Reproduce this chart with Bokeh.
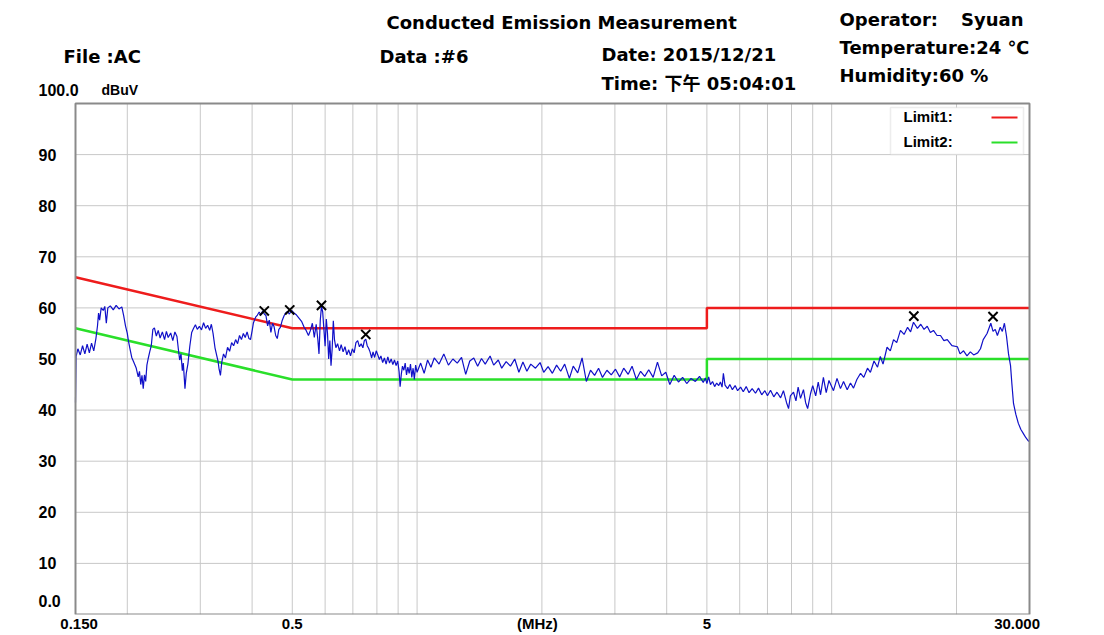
import math
from bokeh.plotting import figure
from bokeh.models import FixedTicker, Label, BoxAnnotation, Range1d
from bokeh.embed import file_html
from bokeh.resources import INLINE

# ---------------- data ----------------
freq_mhz = [
    0.150, 0.1505, 0.152, 0.154, 0.156, 0.158, 0.160, 0.162, 0.164, 0.166,
    0.168, 0.1695, 0.1705, 0.1715, 0.173, 0.175, 0.1765, 0.178, 0.1795, 0.182,
    0.185, 0.188, 0.191, 0.194, 0.196, 0.198, 0.200, 0.2013, 0.203, 0.205,
    0.207, 0.210, 0.2125, 0.214, 0.2155, 0.217, 0.2185, 0.220, 0.2215, 0.223,
    0.2245, 0.2265, 0.2285, 0.2305, 0.2325, 0.235, 0.2375, 0.240, 0.243, 0.246,
    0.2485, 0.251, 0.2545, 0.2575, 0.2605, 0.2635, 0.2655, 0.2675, 0.2695, 0.2715,
    0.273, 0.2755, 0.2775, 0.280, 0.283, 0.286, 0.289, 0.292, 0.295, 0.2985,
    0.302, 0.3055, 0.309, 0.3125, 0.316, 0.319, 0.322, 0.3255, 0.329, 0.331,
    0.333, 0.3355, 0.338, 0.3413, 0.345, 0.349, 0.353, 0.357, 0.361, 0.365,
    0.369, 0.373, 0.377, 0.381, 0.385, 0.389, 0.393, 0.3965, 0.400, 0.403,
    0.408, 0.412, 0.416, 0.420, 0.424, 0.428, 0.432, 0.436, 0.440, 0.444,
    0.448, 0.452, 0.456, 0.460, 0.464, 0.468, 0.473, 0.478, 0.482, 0.487,
    0.492, 0.498, 0.505, 0.512, 0.520, 0.527, 0.534, 0.540, 0.547, 0.553,
    0.559, 0.565, 0.571, 0.576, 0.580, 0.584, 0.588, 0.592, 0.596, 0.600,
    0.604, 0.608, 0.612, 0.616, 0.620, 0.624, 0.628, 0.632, 0.637, 0.643,
    0.650, 0.656, 0.663, 0.670, 0.677, 0.684, 0.691, 0.698, 0.705, 0.712,
    0.719, 0.726, 0.733, 0.740, 0.746, 0.752, 0.758, 0.764, 0.770, 0.777,
    0.783, 0.790, 0.797, 0.804, 0.811, 0.818, 0.826, 0.834, 0.842, 0.850,
    0.858, 0.866, 0.874, 0.882, 0.890, 0.898, 0.905, 0.910, 0.916, 0.922,
    0.929, 0.936, 0.943, 0.950, 0.957, 0.964, 0.971, 0.978, 0.985, 0.992,
    1.000, 1.02, 1.04, 1.06, 1.08, 1.10, 1.13, 1.16, 1.19, 1.22,
    1.25, 1.28, 1.31, 1.34, 1.37, 1.40, 1.43, 1.46, 1.50, 1.53,
    1.57, 1.60, 1.64, 1.68, 1.72, 1.76, 1.80, 1.84, 1.88, 1.93,
    1.98, 2.02, 2.07, 2.12, 2.17, 2.22, 2.27, 2.33, 2.38, 2.44,
    2.50, 2.56, 2.62, 2.68, 2.74, 2.80, 2.87, 2.94, 3.01, 3.08,
    3.15, 3.23, 3.30, 3.38, 3.46, 3.54, 3.62, 3.71, 3.80, 3.89,
    3.98, 4.07, 4.17, 4.27, 4.37, 4.47, 4.58, 4.69, 4.80, 4.90,
    4.96, 5.00, 5.05, 5.10, 5.16, 5.22, 5.28, 5.34, 5.39, 5.44,
    5.48, 5.53, 5.61, 5.68, 5.76, 5.85, 5.93, 6.03, 6.12, 6.22,
    6.32, 6.43, 6.55, 6.66, 6.78, 6.90, 7.00, 7.12, 7.25, 7.38,
    7.53, 7.65, 7.78, 7.87, 7.95, 8.09, 8.20, 8.30, 8.41, 8.55,
    8.65, 8.75, 8.89, 9.00, 9.15, 9.28, 9.40, 9.55, 9.70, 9.85,
    10.1, 10.3, 10.5, 10.68, 10.9, 11.1, 11.29, 11.5, 11.74, 11.95,
    12.2, 12.4, 12.65, 12.9, 13.1, 13.3, 13.6, 13.85, 14.1, 14.35,
    14.65, 14.95, 15.24, 15.5, 15.75, 16.1, 16.4, 16.7, 17.0, 17.3,
    17.6, 17.95, 18.3, 18.65, 19.0, 19.5, 20.1, 20.4, 20.8, 21.2,
    21.6, 22.0, 22.5, 22.85, 23.2, 23.7, 24.2, 24.5, 24.8, 25.1,
    25.5, 25.8, 26.1, 26.4, 26.7, 27.0, 27.2, 27.45, 27.8, 28.2,
    28.6, 29.0, 29.4, 29.8, 30.0,
]
level_dbuv = [
    41.5, 50.5, 52.0, 50.8, 52.6, 51.0, 52.9, 51.2, 53.1, 51.6,
    54.0, 56.5, 59.0, 57.6, 60.0, 59.5, 60.3, 57.0, 60.0, 60.4,
    59.6, 60.5, 59.8, 60.2, 58.5, 56.5, 55.0, 53.5, 52.0, 50.3,
    49.5, 48.3, 46.5, 47.6, 45.0, 46.8, 44.2, 46.9, 45.6, 48.8,
    50.0, 51.4, 52.6, 55.8, 56.1, 54.5, 55.6, 54.1, 55.3, 53.8,
    55.4, 54.2, 55.1, 53.6, 55.3, 54.4, 52.0, 49.8, 51.0, 47.7,
    49.2, 44.2, 47.2, 49.0, 52.5, 55.2, 56.0, 56.7, 55.8, 56.4,
    55.7, 57.1, 56.0, 56.6, 55.6, 56.8, 55.0, 52.2, 50.5, 49.6,
    48.0, 46.8, 49.4, 51.0, 50.2, 52.3, 51.5, 53.2, 52.6, 53.8,
    53.0, 54.6, 53.8, 55.0, 54.2, 55.3, 54.0, 53.8, 55.5, 57.1,
    58.2, 58.6, 59.2, 58.6, 59.4, 58.8, 58.5, 56.5, 57.6, 55.2,
    57.0, 56.3, 54.6, 54.0, 55.8, 56.2, 57.6, 58.5, 59.0, 59.3,
    58.8, 59.5, 59.0, 58.6, 57.9, 57.3, 56.2, 55.6, 54.6, 55.6,
    57.0, 54.2, 56.8, 54.0, 51.0, 57.5, 60.3, 59.2, 55.8, 52.5,
    57.8, 55.0, 50.0, 53.6, 48.7, 52.0, 57.5, 53.8, 52.2, 53.0,
    51.6, 52.8, 51.4, 52.4, 50.8, 51.8, 50.6, 52.0, 51.2, 53.2,
    53.6, 52.4, 53.0, 52.2, 53.6, 53.9, 52.6, 52.1, 51.4, 50.2,
    51.4, 50.3, 51.6, 50.8, 49.9, 50.6, 49.3, 50.2, 49.0, 50.4,
    49.2, 50.0, 48.9, 49.8, 48.7, 49.6, 47.5, 44.6, 47.0, 48.6,
    47.8, 49.2, 46.9, 48.4, 47.2, 49.0, 46.4, 48.2, 46.0, 48.8,
    47.4, 49.2, 47.2, 49.8, 48.4, 50.2, 49.0, 51.0, 48.8, 50.0,
    49.2, 50.3, 47.0, 49.6, 50.2, 48.6, 50.1, 49.0, 50.6, 48.8,
    49.8, 48.2, 49.5, 48.6, 50.0, 47.4, 49.4, 47.6, 49.0, 48.2,
    49.3, 47.4, 48.5, 47.2, 48.8, 47.6, 49.0, 46.2, 48.6, 47.3,
    50.2, 45.6, 47.8, 46.8, 48.2, 46.4, 47.8, 46.9, 48.0, 46.5,
    48.2, 47.0, 48.6, 46.0, 47.6, 46.6, 47.9, 46.4, 49.4, 46.7,
    47.4, 45.0, 46.8, 45.5, 46.4, 45.2, 46.2, 45.6, 46.6, 45.4,
    46.3, 45.2, 46.5, 45.0, 45.6, 44.6, 45.3, 44.8, 45.5, 44.5,
    47.2, 44.9, 44.2, 45.0, 44.0, 44.8, 43.8, 44.5, 43.6, 44.6,
    43.4, 44.2, 43.3, 44.3, 43.0, 43.8, 42.8, 43.9, 42.6, 43.5,
    42.4, 43.8, 41.5, 40.3, 42.8, 43.5, 41.8, 44.5, 42.3, 44.0,
    41.5, 40.3, 43.2, 44.8, 42.8, 45.5, 43.0, 46.4, 43.4, 45.8,
    43.8, 46.2, 44.2, 45.6, 44.0, 45.3, 44.3, 46.0, 47.2, 46.4,
    48.2, 47.4, 49.6, 48.4, 50.5, 49.0, 52.3, 51.6, 53.8, 53.2,
    55.6, 54.8, 56.2, 55.3, 57.2, 56.0, 56.8, 55.8, 56.4, 55.2,
    55.6, 54.6, 54.6, 53.6, 53.8, 52.6, 52.4, 51.0, 51.6, 50.6,
    51.4, 50.8, 51.2, 52.0, 53.8, 55.0, 57.0, 55.4, 55.8, 54.6,
    56.2, 55.4, 57.0, 54.5, 51.0, 48.7, 45.2, 41.3, 39.2, 37.4,
    36.2, 35.4, 34.6, 34.0, 33.8,
]

limit_freq = [0.15, 0.5, 5.0, 5.0, 30.0]
limit1_dbuv = [66, 56, 56, 60, 60]
limit2_dbuv = [56, 46, 46, 50, 50]

peak_freq = [0.428, 0.493, 0.588, 0.752, 15.78, 24.5]
peak_dbuv = [59.4, 59.6, 60.5, 54.8, 58.4, 58.3]

x_min, x_max = 0.15, 30.0
y_min, y_max = 0.0, 100.0
x_grid_mhz = [0.2, 0.3, 0.4, 0.5, 0.6, 0.7, 0.8, 0.9, 1, 2, 3, 4, 5, 6, 7, 8, 9, 10, 20]
y_grid = [10, 20, 30, 40, 50, 60, 70, 80, 90]
x_tick_mhz = [0.153, 0.5, 1.95, 5, 28.0]
x_tick_labels = ["0.150", "0.5", "(MHz)", "5", "30.000"]
y_tick_pos = [10, 20, 30, 40, 50, 60, 70, 80, 90]
y_tick_labels = ["10", "20", "30", "40", "50", "60", "70", "80", "90"]

title_text = "Conducted Emission Measurement"
file_text = "File :AC"
data_text = "Data :#6"
date_text = "Date: 2015/12/21"
time_text = "Time: 下午 05:04:01"
operator_label = "Operator:"
operator_name = "Syuan"
temp_text = "Temperature:24 ℃"
humid_text = "Humidity:60 %"
y_bottom_label = "0.0"
y_top_label = "100.0"
y_unit_label = "dBuV"
legend_labels = ["Limit1:", "Limit2:"]

# ---------------- layout (page pixels) ----------------
W, H = 1104, 635
FL, FR, FT = 75, 1029, 103      # visible plot box: left, right, top
AXIS_H = 21                     # height of the x-axis panel
FB = H - AXIS_H                 # visible plot box bottom == bokeh frame bottom
K = math.log10(x_max / x_min) / (FR - FL)    # decades per pixel
PPD = (FB - FT) / (y_max - y_min)            # pixels per dB


def fx(px):
    """page x pixel -> MHz"""
    return x_min * 10 ** ((px - FL) * K)


def dy(py):
    """page y pixel -> dBuV"""
    return y_min + (FB - py) / PPD


p = figure(width=W, height=H, x_axis_type="log",
           x_range=Range1d(fx(0), fx(W)), y_range=Range1d(dy(FB), dy(0)),
           output_backend="svg", toolbar_location=None, y_axis_location=None,
           min_border_left=0, min_border_right=0, min_border_top=0,
           min_border_bottom=AXIS_H)
p.background_fill_color = "white"
p.border_fill_color = "white"
p.outline_line_color = None
p.grid.visible = False

AX_FONT = "Liberation Sans"
ax = p.xaxis
ax.ticker = FixedTicker(ticks=x_tick_mhz)
ax.major_label_overrides = {t: l for t, l in zip(x_tick_mhz, x_tick_labels)}
ax.axis_line_color = None
ax.major_tick_line_color = None
ax.minor_tick_line_color = None
ax.major_tick_out = 0
ax.major_tick_in = 0
ax.major_label_standoff = 0
ax.major_label_text_font = AX_FONT
ax.major_label_text_font_style = "bold"
ax.major_label_text_font_size = "15px"
ax.major_label_text_color = "black"

# ---------------- grid and plot box ----------------
GRID = "#c8c8c8"
p.segment(x0=x_grid_mhz, y0=[y_min] * len(x_grid_mhz), x1=x_grid_mhz,
          y1=[y_max] * len(x_grid_mhz), line_color=GRID, line_width=1)
p.segment(x0=[x_min] * len(y_grid), y0=y_grid, x1=[x_max] * len(y_grid),
          y1=y_grid, line_color=GRID, line_width=1)

# ---------------- marks ----------------
p.line(limit_freq, limit1_dbuv, line_color="#ee1c1c", line_width=2.5)
p.line(limit_freq, limit2_dbuv, line_color="#2adf2a", line_width=2.5)
p.line(freq_mhz, level_dbuv, line_color="#1010c8", line_width=1.2)
p.scatter(peak_freq, peak_dbuv, marker="x", size=13, line_color="black", line_width=2)

p.quad(left=[x_min], right=[x_max], bottom=[y_min], top=[y_max],
       fill_color=None, line_color="#8a8a8a", line_width=2)

# ---------------- texts ----------------
HEAD_FONT = "DejaVu Sans, Noto Sans CJK SC"


def text_at(text, px, py, size="18px", font=HEAD_FONT, align="left"):
    """py is the vertical centre of the text in page pixels"""
    p.add_layout(Label(x=px, y=dy(py), x_units="screen", y_units="data",
                       text=text, text_font=font, text_font_size=size,
                       text_font_style="bold", text_align=align,
                       text_baseline="middle", text_color="black"))


text_at(title_text, 386, 22)
text_at(file_text, 63, 55.5)
text_at(data_text, 379, 55.5)
text_at(date_text, 601, 54)
text_at(time_text, 601, 83)
text_at(operator_label, 839, 18.5)
text_at(operator_name, 1023, 18.5, align="right")
text_at(temp_text, 839, 46.5)
text_at(humid_text, 839, 74.5)

# y-axis labels (left aligned, like the reference)
for t, lab in zip(y_tick_pos, y_tick_labels):
    p.add_layout(Label(x=38, y=t, x_units="screen", y_units="data", text=lab,
                       text_font=AX_FONT, text_font_size="16px",
                       text_font_style="bold", text_align="left",
                       text_baseline="middle", text_color="black"))
text_at(y_bottom_label, 38, 600, size="16px", font=AX_FONT)
text_at(y_top_label, 38, 89, size="16px", font=AX_FONT)
text_at(y_unit_label, 101, 89, size="14px", font=AX_FONT)

# ---------------- legend (label left, line sample right) ----------------
p.add_layout(BoxAnnotation(left=fx(890), right=fx(1023), top=dy(107), bottom=dy(154),
                           fill_color="white", fill_alpha=1.0,
                           line_color="#c4c4c4", line_width=1.5))
p.add_layout(BoxAnnotation(left=fx(991), right=fx(1017), top=dy(116), bottom=dy(118),
                           fill_color="#ee1c1c", fill_alpha=1.0, line_color=None))
p.add_layout(BoxAnnotation(left=fx(991), right=fx(1017), top=dy(141), bottom=dy(143),
                           fill_color="#2adf2a", fill_alpha=1.0, line_color=None))
text_at(legend_labels[0], 903, 116, size="15px", font=AX_FONT)
text_at(legend_labels[1], 903, 140.5, size="15px", font=AX_FONT)

open("out.html", "w").write(file_html(p, INLINE))
